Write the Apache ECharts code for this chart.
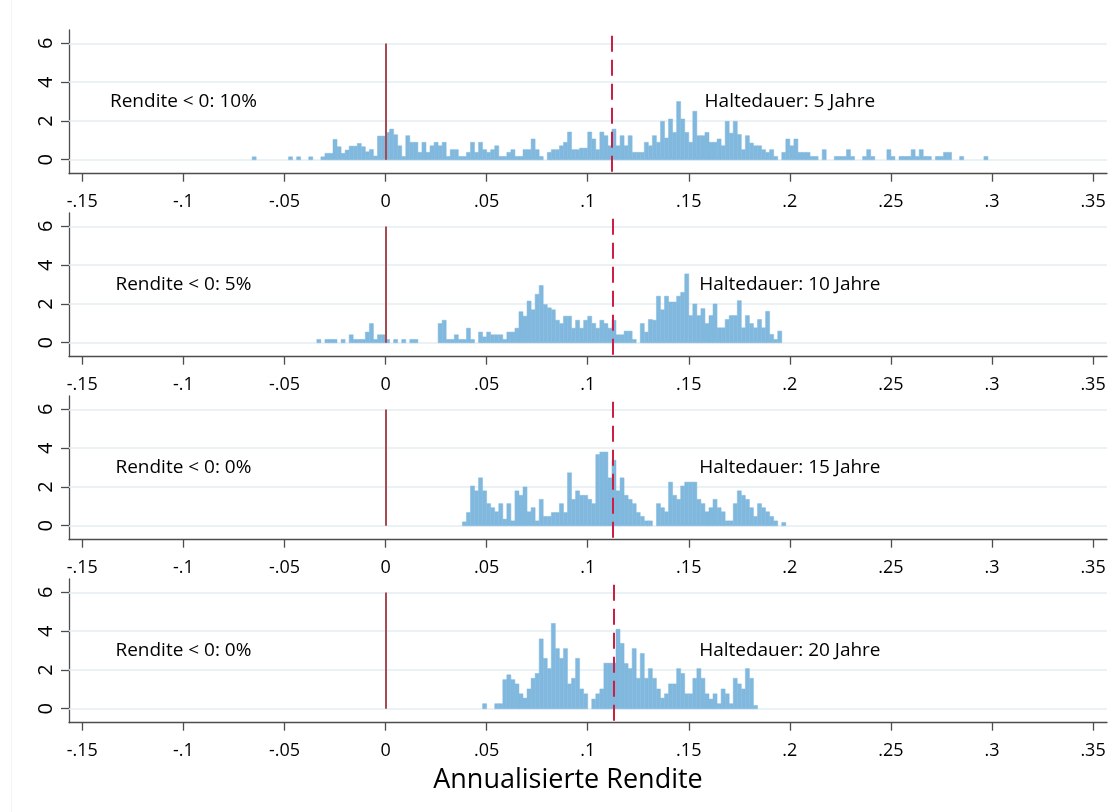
<!DOCTYPE html>
<html>
<head>
<meta charset="utf-8">
<script src="https://cdn.jsdelivr.net/npm/echarts@6/dist/echarts.min.js"></script>
<style>
  html, body { margin: 0; background: #fff; }
  #chart { width: 1114px; height: 812px; }
</style>
</head>
<body>
<div id="chart"></div>
<script>
// histogram bin width (annualised return)
const BIN = 0.002;

const xTicks = [-0.15, -0.1, -0.05, 0, 0.05, 0.1, 0.15, 0.2, 0.25, 0.3, 0.35];
const yTicks = [0, 2, 4, 6];

const holdLabels = ['Haltedauer: 5 Jahre', 'Haltedauer: 10 Jahre', 'Haltedauer: 15 Jahre', 'Haltedauer: 20 Jahre'];
const lossLabels = ['Rendite < 0: 10%', 'Rendite < 0: 5%', 'Rendite < 0: 0%', 'Rendite < 0: 0%'];

// left edge of the first bin in each panel
const binStarts = [-0.066, -0.034, 0.038, 0.048];
// dashed line (mean return) per panel
const meanReturns = [0.1118, 0.1125, 0.1125, 0.1128];

// densities, one value per bin
const dens5 = [
  0.15, 0, 0, 0, 0, 0, 0, 0, 0, 0.15,
  0, 0.15, 0, 0, 0.15, 0, 0, 0.15, 0.33, 0.33,
  1.05, 0.67, 0.33, 0.5, 0.7, 0.7, 0.84, 0.67, 0.41, 0.53,
  0.19, 1.22, 1.22, 1.41, 1.58, 1.29, 0.72, 0.17, 1.24, 0.9,
  0.9, 0.38, 0.9, 0.38, 0.72, 0.9, 0.72, 0.9, 0.17, 0.52,
  0.52, 0.17, 0.17, 0.38, 0.9, 0.38, 0.9, 0.52, 0.38, 0.52,
  0.72, 0.17, 0.17, 0.38, 0.52, 0.17, 0.17, 0.52, 0.52, 1.07,
  0.52, 0.17, 0, 0.38, 0.52, 0.52, 0.72, 0.9, 1.43, 0.52,
  0.52, 0.6, 0.6, 1.43, 1.07, 0.52, 1.43, 1.24, 0.72, 1.58,
  0.72, 1.24, 0.72, 1.24, 0.38, 0.38, 0.38, 0.9, 0.72, 1.24,
  0.9, 1.98, 1.12, 2.1, 1.41, 3.0, 2.1, 1.41, 0.9, 2.5,
  1.24, 1.24, 1.41, 0.9, 0.9, 1.07, 0.72, 1.98, 1.37, 1.98,
  1.3, 0.52, 1.24, 0.86, 0.72, 0.72, 0.52, 0.38, 0.52, 0.17,
  0, 0.38, 1.07, 0.72, 1.07, 0.38, 0.38, 0.38, 0.17, 0.17,
  0, 0.52, 0, 0, 0.17, 0.17, 0.17, 0.52, 0.17, 0,
  0, 0.17, 0.52, 0.17, 0, 0, 0, 0.52, 0.17, 0,
  0.17, 0.17, 0.17, 0.52, 0.17, 0.52, 0.17, 0.17, 0, 0.17,
  0.17, 0.38, 0.38, 0, 0, 0.17, 0, 0, 0, 0,
  0, 0.17
];
const dens10 = [
  0.17, 0, 0.17, 0.17, 0.17, 0, 0.17, 0, 0.41, 0.17,
  0.17, 0.17, 0.55, 0.99, 0.17, 0.41, 0.41, 0.17, 0, 0.17,
  0, 0.17, 0, 0.17, 0.17, 0, 0, 0, 0, 0,
  0.99, 1.16, 0.17, 0.17, 0.41, 0.17, 0.17, 0.75, 0.17, 0,
  0.55, 0.3, 0.55, 0.41, 0.41, 0.41, 0.17, 0.55, 0.55, 0.75,
  1.6, 1.37, 2.15, 1.7, 2.5, 2.95, 1.97, 1.8, 1.7, 1.16,
  0.99, 1.37, 1.37, 0.75, 1.16, 0.75, 1.16, 1.37, 1.0, 0.75,
  1.16, 0.99, 0.75, 1.16, 0.41, 0.41, 0.6, 0.6, 0.17, 0,
  0.99, 0.55, 1.2, 1.16, 2.4, 1.7, 2.4, 2.1, 2.1, 2.4,
  2.6, 3.55, 1.4, 2.0, 1.4, 1.76, 0.99, 1.4, 2.0, 0.77,
  0.77, 1.2, 1.4, 1.4, 2.17, 0.77, 1.4, 0.99, 0.77, 1.2,
  0.77, 1.62, 0.43, 0.17, 0.6
];
const dens15 = [
  0.2, 0.68, 2.05, 1.8, 2.47, 1.8, 1.14, 0.93, 0.72, 1.14,
  0.34, 1.14, 0.25, 1.8, 1.57, 2.0, 0.72, 0.93, 0.25, 1.36,
  0.48, 0.48, 0.68, 0.68, 1.14, 0.68, 2.73, 1.36, 1.8, 1.57,
  1.57, 1.36, 1.14, 3.67, 3.8, 3.8, 2.47, 3.38, 1.8, 2.47,
  1.57, 1.36, 1.14, 0.68, 0.48, 0.25, 0.25, 0, 1.14, 0.93,
  0.72, 2.25, 1.57, 1.36, 2.05, 2.25, 2.25, 2.25, 1.36, 1.14,
  0.72, 0.93, 1.36, 0.93, 0.72, 0.25, 0.25, 1.14, 1.8, 1.57,
  1.36, 0.93, 0.48, 1.14, 0.93, 0.72, 0.48, 0.25, 0, 0.17
];
const dens20 = [
  0.26, 0, 0, 0.26, 0.26, 1.5, 1.75, 1.5, 1.28, 0.77,
  0.55, 1.02, 1.57, 1.82, 3.6, 2.6, 2.07, 4.4, 3.1, 2.6,
  3.1, 1.28, 1.57, 2.6, 1.02, 0.77, 0, 0.5, 0.77, 1.02,
  2.35, 2.35, 2.35, 4.1, 3.37, 2.33, 2.07, 3.1, 1.57, 2.85,
  1.57, 2.07, 1.57, 1.02, 0.55, 0.77, 1.28, 1.28, 2.07, 1.82,
  0.77, 0.77, 1.57, 2.07, 1.57, 0.77, 0.5, 0.77, 0.26, 1.02,
  0.77, 0.26, 1.57, 1.28, 1.02, 2.07, 1.57, 0.17
];
const panels = [dens5, dens10, dens15, dens20];

const FONT = '"Open Sans", "Noto Sans", sans-serif';
const BAR = '#80b8de';
const AXIS = '#4d4d4d';

const chart = echarts.init(document.getElementById('chart'), null, { renderer: 'canvas' });

function fmtTick(v) {
  if (v === 0) return '0';
  return String(v).replace('0.', '.');
}

function binData(start, dens) {
  const out = [];
  dens.forEach((h, i) => {
    if (h > 0) {
      const x0 = +(start + i * BIN).toFixed(4);
      out.push([x0, +(x0 + BIN).toFixed(4), h]);
    }
  });
  return out;
}

function renderBin(params, api) {
  const p0 = api.coord([api.value(0), api.value(2)]);
  const p1 = api.coord([api.value(1), 0]);
  return {
    type: 'rect',
    shape: { x: p0[0], y: p0[1], width: p1[0] - p0[0], height: p1[1] - p0[1] },
    style: { fill: BAR, stroke: BAR, lineWidth: 0.5 }
  };
}

const grids = [], xAxes = [], yAxes = [], series = [];

panels.forEach((dens, i) => {
  grids.push({ left: 69, right: 7, top: 30 + i * 183, height: 143.7 });

  xAxes.push({
    gridIndex: i,
    type: 'value',
    min: -0.1566,
    max: 0.3569,
    axisLine: { onZero: false, lineStyle: { color: AXIS, width: 1.3 } },
    axisTick: { customValues: xTicks, length: 8, lineStyle: { color: AXIS, width: 1.3 } },
    axisLabel: {
      customValues: xTicks,
      formatter: fmtTick,
      color: '#000',
      fontSize: 18,
      fontFamily: FONT,
      margin: 19
    },
    splitLine: { show: false }
  });

  yAxes.push({
    gridIndex: i,
    type: 'value',
    min: -0.72,
    max: 6.69,
    axisLine: { show: true, onZero: false, lineStyle: { color: AXIS, width: 1.3 } },
    axisTick: { show: true, customValues: yTicks, length: 8, lineStyle: { color: AXIS, width: 1.3 } },
    axisLabel: {
      customValues: yTicks,
      rotate: 90,
      color: '#000',
      fontSize: 20,
      fontFamily: FONT,
      margin: 13
    },
    splitLine: { show: false }
  });

  // horizontal grid lines, kept under the bars
  series.push({
    type: 'line',
    xAxisIndex: i,
    yAxisIndex: i,
    data: [[0, 0]],
    symbol: 'none',
    lineStyle: { width: 0 },
    silent: true,
    z: 1,
    markLine: {
      silent: true,
      z: 1,
      symbol: ['none', 'none'],
      label: { show: false },
      lineStyle: { color: '#e5eef3', width: 1.5, type: 'solid' },
      data: yTicks.map(v => ({ yAxis: v }))
    }
  });

  series.push({
    type: 'custom',
    xAxisIndex: i,
    yAxisIndex: i,
    renderItem: renderBin,
    data: binData(binStarts[i], dens),
    silent: true,
    z: 2
  });

  // zero line and mean line
  series.push({
    type: 'line',
    xAxisIndex: i,
    yAxisIndex: i,
    data: [[0, 0]],
    symbol: 'none',
    lineStyle: { width: 0 },
    silent: true,
    z: 5,
    markLine: {
      silent: true,
      z: 6,
      symbol: ['none', 'none'],
      label: { show: false },
      data: [
        [
          { coord: [0, 6], lineStyle: { color: '#a64b51', width: 2, type: 'solid' } },
          { coord: [0, 0] }
        ],
        [
          { coord: [meanReturns[i], 6.39], lineStyle: { color: '#cc1f45', width: 2, type: [16, 8] } },
          { coord: [meanReturns[i], -0.72] }
        ]
      ]
    }
  });

  series.push({
    type: 'scatter',
    xAxisIndex: i,
    yAxisIndex: i,
    symbolSize: 0,
    silent: true,
    z: 7,
    itemStyle: { opacity: 1 },
    label: {
      show: true,
      position: 'inside',
      formatter: '{b}',
      color: '#000',
      opacity: 1,
      textBorderWidth: 0,
      fontSize: 19,
      fontFamily: FONT
    },
    data: [
      { name: lossLabels[i], value: [-0.1, 3] },
      { name: holdLabels[i], value: [0.2, 3] }
    ]
  });
});

chart.setOption({
  animation: false,
  backgroundColor: '#fff',
  grid: grids,
  xAxis: xAxes,
  yAxis: yAxes,
  series: series,
  graphic: [
    {
      type: 'line',
      shape: { x1: 11.5, y1: 0, x2: 11.5, y2: 812 },
      style: { stroke: '#f3f3f3', lineWidth: 1 },
      silent: true
    },
    {
      type: 'text',
      x: 568,
      y: 780,
      style: {
        text: 'Annualisierte Rendite',
        font: '27px "Open Sans", sans-serif',
        fill: '#000',
        textAlign: 'center',
        textVerticalAlign: 'middle'
      },
      silent: true
    }
  ]
});
</script>
</body>
</html>
